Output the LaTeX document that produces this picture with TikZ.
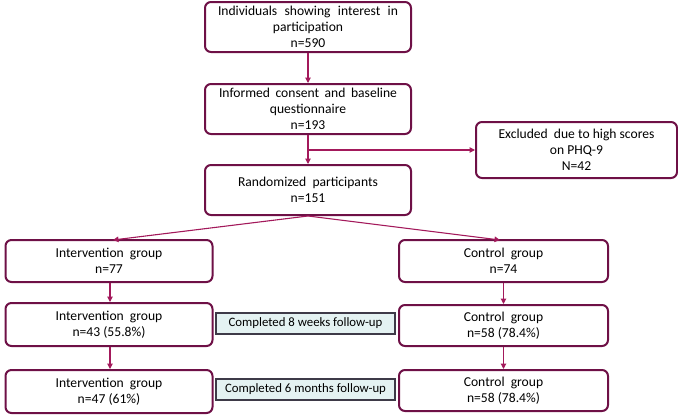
\documentclass[tikz,border=0pt]{standalone}
\usepackage{fontspec}
\setmainfont{Carlito}
\usetikzlibrary{arrows.meta}
\definecolor{boxc}{HTML}{6E1046}
\definecolor{arrc}{HTML}{A3195B}
\definecolor{tealfill}{HTML}{E4F2F2}
\definecolor{tealdraw}{HTML}{3E3A48}
\begin{document}
\begin{tikzpicture}[x=1pt,y=-1pt,
  every node/.style={font=\fontsize{13.6}{16}\selectfont},
  flowbox/.style={draw=boxc,line width=2pt,rounded corners=6pt,align=center,inner sep=0pt},
  notebox/.style={draw=tealdraw,fill=tealfill,line width=1.6pt,align=center,inner sep=0pt,minimum width=179pt,minimum height=21pt,font=\fontsize{12.8}{15}\selectfont},
  conn/.style={draw=arrc,line width=1.1pt,-{Triangle[length=5.5pt,width=5.5pt]}}]
\useasboundingbox (0,0) rectangle (678,415);
\node[flowbox,minimum width=206pt,minimum height=50pt] (b1) at (308,27)
  {\makebox[180pt][s]{Individuals showing interest in}\\participation\\n=590};
\node[flowbox,minimum width=206pt,minimum height=50pt] (b2) at (308,109)
  {\makebox[178pt][s]{Informed consent and baseline}\\questionnaire\\n=193};
\node[flowbox,minimum width=206pt,minimum height=50pt] (b3) at (308,190)
  {Randomized\ \ participants\\n=151};
\node[flowbox,minimum width=201pt,minimum height=56pt] (ex) at (576.5,150)
  {Excluded\ \ due to high scores\\on PHQ-9\\N=42};
\node[flowbox,minimum width=207pt,minimum height=42pt] (i1) at (109,261)
  {Intervention\ \ group\\n=77};
\node[flowbox,minimum width=207pt,minimum height=43pt] (i2) at (109,324.5)
  {Intervention\ \ group\\n=43 (55.8\%)};
\node[flowbox,minimum width=207pt,minimum height=43pt] (i3) at (109,391.5)
  {Intervention\ \ group\\n=47 (61\%)};
\node[flowbox,minimum width=209pt,minimum height=42pt] (c1) at (503.5,261)
  {Control\ \ group\\n=74};
\node[flowbox,minimum width=209pt,minimum height=41pt] (c2) at (503.5,325.5)
  {Control\ \ group\\n=58 (78.4\%)};
\node[flowbox,minimum width=209pt,minimum height=41pt] (c3) at (503.5,390.5)
  {Control\ \ group\\n=58 (78.4\%)};
\node[notebox] (t1) at (305.5,323.5) {Completed 8 weeks follow-up};
\node[notebox] (t2) at (305.5,389.5) {Completed 6 months follow-up};
\coordinate (split) at (b2.south |- ex.west);
\draw[conn] (b1.south) -- (b2.north);
\draw[conn] (b2.south) -- (b3.north);
\draw[conn] (split) -- (ex.west);
\draw[conn] (b3.south) -- (113,240) coordinate (i1top);
\draw[conn] (b3.south) -- (500,240) coordinate (c1top);
\draw[conn] (i1.south -| 110,0) -- (i2.north -| 110,0);
\draw[conn] (i2.south -| 110,0) -- (i3.north -| 110,0);
\draw[conn] (c1.south) -- (c2.north);
\draw[conn] (c2.south) -- (c3.north);
\end{tikzpicture}
\end{document}
